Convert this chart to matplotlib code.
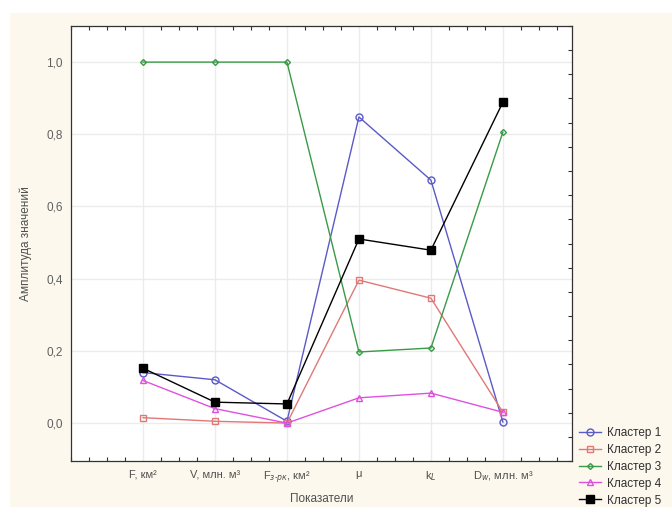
import matplotlib
matplotlib.use("Agg")
import matplotlib.pyplot as plt
import numpy as np
from matplotlib.patches import Rectangle

plt.rcParams['font.family'] = ['Liberation Sans', 'DejaVu Sans']

categories = ["F, км²", "V, млн. м³", "F$_{з\\text{-}рк}$, км²", "μ", "k$_L$", "D$_w$, млн. м³"]
cluster1 = [0.14, 0.12, 0.005, 0.848, 0.673, 0.003]
cluster2 = [0.015, 0.005, 0.0, 0.396, 0.346, 0.03]
cluster3 = [1.0, 1.0, 1.0, 0.197, 0.208, 0.806]
cluster4 = [0.118, 0.04, 0.0, 0.07, 0.083, 0.03]
cluster5 = [0.152, 0.058, 0.053, 0.51, 0.479, 0.889]
series_names = ["Кластер 1", "Кластер 2", "Кластер 3", "Кластер 4", "Кластер 5"]
y_ticks = [0.0, 0.2, 0.4, 0.6, 0.8, 1.0]
y_ticklabels = ["0,0", "0,2", "0,4", "0,6", "0,8", "1,0"]

fig = plt.figure(figsize=(6.72, 5.07), dpi=100)
fig.patch.set_facecolor("white")
fig.patches.append(Rectangle((10/672, 0), 1, 1 - 13/507, transform=fig.transFigure,
                             facecolor="#fcf8ee", edgecolor="none", zorder=-10))

ax = fig.add_axes([71/672, 1 - 461/507, 501/672, 435/507])
ax.set_facecolor("white")

x = np.arange(1, len(categories) + 1)
styles = [
    dict(color="#5a5ac8", marker="o", mfc="none", ms=5, mew=1.0),
    dict(color="#e07878", marker="s", mfc="none", ms=5, mew=1.0),
    dict(color="#3a9a48", marker="D", mfc="none", ms=3, mew=1.0),
    dict(color="#e050e0", marker="^", mfc="none", ms=5, mew=1.0),
    dict(color="#000000", marker="s", mfc="#000000", ms=6, mew=1.0),
]
data = [cluster1, cluster2, cluster3, cluster4, cluster5]
for vals, name, st in zip(data, series_names, styles):
    ax.plot(x, vals, lw=1.0, label=name, **st)

ylim = (-0.105, 1.10)
xlim = (0.0, 6.96)
ax.set_xlim(*xlim)
ax.set_ylim(*ylim)

ax.set_xticks(x)
ax.set_xticklabels(categories, fontsize=8, color="#505050")
ax.set_yticks(y_ticks)
ax.set_yticklabels(y_ticklabels, fontsize=8.5, color="#606060")
ax.grid(True, color="#ececec", lw=1.0)
ax.set_axisbelow(True)

ax.tick_params(axis="x", length=0, pad=6)
ax.tick_params(axis="y", length=0, pad=6)

# minor ticks like Statistica: inward, on the frame sides
xm = np.arange(xlim[0], xlim[1] + 1e-9, 0.25)
ax.set_xticks(xm, minor=True)
ym = ylim[0] + np.arange(0, 19) * (ylim[1] - ylim[0]) / 18
ax.set_yticks(ym, minor=True)
ax.tick_params(which="minor", direction="in", length=3, width=0.8, color="#333333",
               top=True, bottom=True, left=False, right=True)

for s in ax.spines.values():
    s.set_color("#333333")
    s.set_linewidth(0.9)

ax.set_ylabel("Амплитуда значений", fontsize=8.5, color="#505050", labelpad=10)
ax.set_xlabel("Показатели", fontsize=8.5, color="#505050", labelpad=5)

leg = fig.legend(loc="upper left", bbox_to_anchor=(574/672, 1 - 422/507),
                 frameon=False, fontsize=8.5, labelspacing=0.42, handlelength=1.9,
                 handletextpad=0.5, borderaxespad=0)
for t in leg.get_texts():
    t.set_color("#303030")

fig.savefig("out.png", dpi=100, facecolor=fig.get_facecolor())
